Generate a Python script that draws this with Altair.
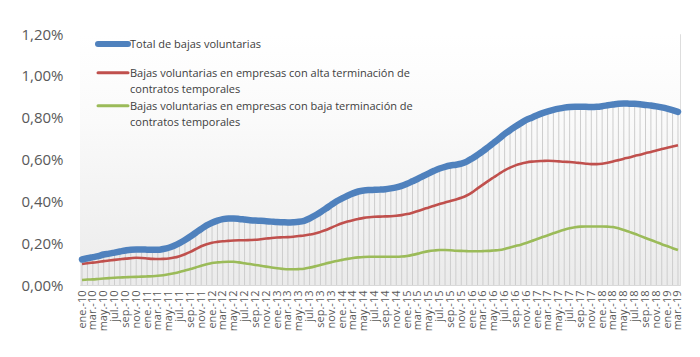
import altair as alt
import pandas as pd

month_abbr = ["ene.", "feb.", "mar.", "abr.", "may.", "jun.", "jul.", "ago.", "sep.", "oct.", "nov.", "dic."]
periods = [f"{m}-{y:02d}" for y in range(10, 20) for m in month_abbr][:111]
tick_labels = periods[::2]

total = [0.122, 0.128, 0.133, 0.138, 0.146, 0.150, 0.155, 0.160, 0.165, 0.169,
         0.170, 0.170, 0.169, 0.168, 0.168, 0.172, 0.178, 0.188, 0.200, 0.215,
         0.232, 0.250, 0.268, 0.285, 0.298, 0.308, 0.315, 0.318, 0.318, 0.316,
         0.313, 0.310, 0.308, 0.307, 0.305, 0.303, 0.301, 0.300, 0.299, 0.300,
         0.302, 0.307, 0.318, 0.332, 0.348, 0.365, 0.383, 0.400, 0.414, 0.427,
         0.438, 0.447, 0.452, 0.454, 0.455, 0.456, 0.458, 0.462, 0.467, 0.474,
         0.484, 0.496, 0.508, 0.521, 0.534, 0.546, 0.557, 0.565, 0.571, 0.575,
         0.580, 0.590, 0.605, 0.622, 0.640, 0.660, 0.680, 0.700, 0.722, 0.740,
         0.758, 0.774, 0.789, 0.800, 0.812, 0.822, 0.830, 0.837, 0.843, 0.848,
         0.851, 0.852, 0.852, 0.852, 0.851, 0.852, 0.855, 0.859, 0.863, 0.867,
         0.868, 0.867, 0.866, 0.864, 0.861, 0.858, 0.854, 0.849, 0.843, 0.836,
         0.828]

alta = [0.100, 0.104, 0.107, 0.110, 0.114, 0.117, 0.120, 0.123, 0.126, 0.128,
        0.130, 0.129, 0.127, 0.125, 0.124, 0.125, 0.127, 0.131, 0.138, 0.147,
        0.158, 0.172, 0.185, 0.195, 0.202, 0.206, 0.209, 0.211, 0.213, 0.214,
        0.214, 0.215, 0.216, 0.219, 0.222, 0.225, 0.227, 0.228, 0.229, 0.231,
        0.234, 0.237, 0.241, 0.246, 0.254, 0.263, 0.274, 0.285, 0.295, 0.303,
        0.310, 0.316, 0.321, 0.324, 0.326, 0.327, 0.328, 0.329, 0.331, 0.334,
        0.339, 0.346, 0.354, 0.362, 0.371, 0.379, 0.387, 0.395, 0.402, 0.409,
        0.417, 0.428, 0.443, 0.462, 0.480, 0.498, 0.515, 0.532, 0.548, 0.561,
        0.572, 0.580, 0.586, 0.590, 0.592, 0.593, 0.594, 0.593, 0.591, 0.589,
        0.588, 0.586, 0.583, 0.580, 0.578, 0.578, 0.580, 0.584, 0.590, 0.597,
        0.604, 0.610, 0.617, 0.623, 0.630, 0.636, 0.643, 0.650, 0.656, 0.662,
        0.668]

baja = [0.024, 0.026, 0.027, 0.029, 0.031, 0.033, 0.035, 0.036, 0.037, 0.038,
        0.039, 0.040, 0.041, 0.042, 0.044, 0.047, 0.051, 0.056, 0.062, 0.069,
        0.076, 0.084, 0.092, 0.099, 0.105, 0.108, 0.110, 0.111, 0.111, 0.108,
        0.104, 0.100, 0.096, 0.092, 0.088, 0.084, 0.080, 0.077, 0.075, 0.075,
        0.076, 0.078, 0.083, 0.089, 0.096, 0.103, 0.109, 0.115, 0.120, 0.125,
        0.129, 0.132, 0.134, 0.135, 0.135, 0.135, 0.135, 0.135, 0.135, 0.136,
        0.139, 0.144, 0.150, 0.157, 0.162, 0.165, 0.167, 0.167, 0.166, 0.164,
        0.163, 0.162, 0.161, 0.161, 0.162, 0.163, 0.165, 0.167, 0.172, 0.179,
        0.186, 0.193, 0.201, 0.210, 0.220, 0.229, 0.238, 0.247, 0.256, 0.264,
        0.271, 0.276, 0.279, 0.280, 0.280, 0.280, 0.280, 0.279, 0.277, 0.271,
        0.263, 0.254, 0.245, 0.235, 0.225, 0.215, 0.205, 0.195, 0.186, 0.176,
        0.167]

legend_labels = [
    ["Total de bajas voluntarias"],
    ["Bajas voluntarias en empresas con alta terminación de", "contratos temporales"],
    ["Bajas voluntarias en empresas con baja terminación de", "contratos temporales"],
]
y_ticks = [0, 0.2, 0.4, 0.6, 0.8, 1.0, 1.2]

BLUE, RED, GREEN = "#4f81bd", "#c0504d", "#9bbb59"
W, H = 600, 251
FONT = "Open Sans"

df = pd.DataFrame({"periodo": periods, "total": total, "alta": alta, "baja": baja})
one = pd.DataFrame({"k": [0]})

x_enc = alt.X(
    "periodo:O",
    sort=periods,
    scale=alt.Scale(type="point", padding=0.37),
    axis=alt.Axis(
        values=tick_labels, title=None, labelAngle=270, labelAlign="right",
        labelBaseline="middle", labelFont=FONT, labelFontSize=11,
        labelColor="#595959", ticks=False, domainColor="#d9d9d9",
        labelPadding=5, grid=False, labelOverlap=False,
    ),
)
y_scale = alt.Scale(domain=[0, 1.2], nice=False)
y_axis = alt.Axis(
    values=y_ticks, title=None, grid=False, ticks=False, domain=False,
    labelFont=FONT, labelFontSize=15, labelColor="#595959", labelPadding=17,
    labelExpr="replace(format(datum.value, '.2f'), '.', ',') + '%'",
)

bg = alt.Chart(one).mark_rect(
    fill=alt.Gradient(
        gradient="linear", x1=0, x2=0, y1=0, y2=1,
        stops=[alt.GradientStop(color="#ffffff", offset=0),
               alt.GradientStop(color="#fafafa", offset=0.35),
               alt.GradientStop(color="#ebebeb", offset=1)],
    )
).encode(x=alt.value(0), x2=alt.value(W), y=alt.value(0), y2=alt.value(H))

base = alt.Chart(df)

drops = base.mark_rule(color="#cdcdcd", strokeWidth=1).encode(
    x=x_enc, y=alt.Y("total:Q", scale=y_scale, axis=y_axis), y2=alt.datum(0)
)
line_baja = base.mark_line(color=GREEN, strokeWidth=2.6, interpolate="monotone").encode(
    x=x_enc, y=alt.Y("baja:Q", scale=y_scale)
)
line_alta = base.mark_line(color=RED, strokeWidth=2.6, interpolate="monotone").encode(
    x=x_enc, y=alt.Y("alta:Q", scale=y_scale)
)
line_total = base.mark_line(color=BLUE, strokeWidth=6.5, strokeCap="round",
                            interpolate="monotone").encode(
    x=x_enc, y=alt.Y("total:Q", scale=y_scale)
)

leg_layers = []
sym = [(BLUE, 6, 10), (RED, 3, 38.7), (GREEN, 3, 71.7)]
for (col, sw, yy), lines in zip(sym, legend_labels):
    leg_layers.append(
        alt.Chart(one).mark_rule(color=col, strokeWidth=sw, strokeCap="round").encode(
            x=alt.value(18), x2=alt.value(48), y=alt.value(yy), y2=alt.value(yy)
        )
    )
    for j, t in enumerate(lines):
        leg_layers.append(
            alt.Chart(one).mark_text(
                align="left", baseline="middle", font=FONT, fontSize=11, color="#404040"
            ).encode(x=alt.value(50), y=alt.value(yy + 1 + j * 16.3), text=alt.value(t))
        )

chart = alt.layer(bg, drops, line_baja, line_alta, line_total, *leg_layers).properties(
    width=W, height=H,
    autosize=alt.AutoSizeParams(type="none"),
    padding={"left": 72, "top": 26, "right": 12, "bottom": 64},
).configure_view(stroke=None).configure(background="#ffffff")

chart.save("out.html", embed_options={"renderer": "svg", "actions": False})
